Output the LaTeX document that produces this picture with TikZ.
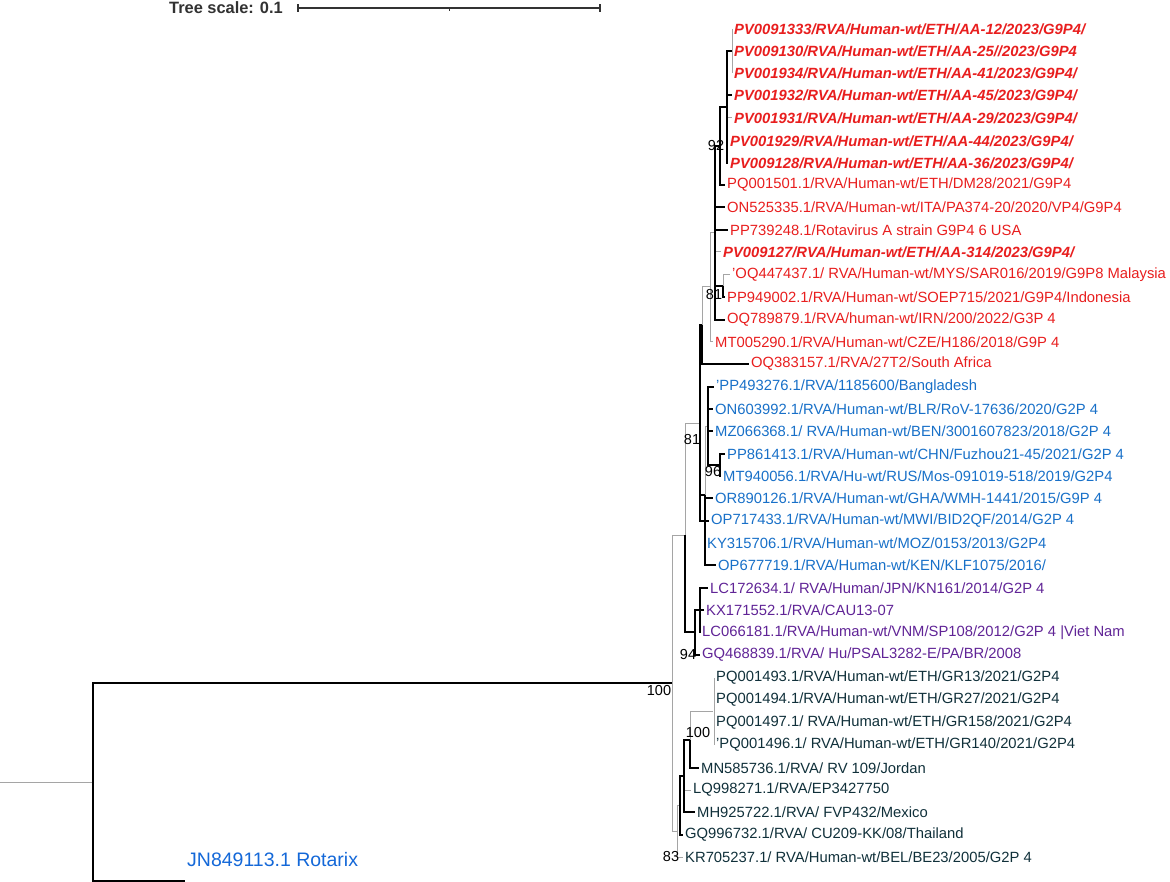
\documentclass[tikz,border=0pt]{standalone}
\usepackage{fontspec}
\setmainfont{Liberation Sans}
\usepackage{xcolor}
\usepackage{tikz}

\definecolor{gninered}{RGB}{232,30,30}
\definecolor{gtwoblue}{RGB}{24,112,200}
\definecolor{gtwopurple}{RGB}{96,36,150}
\definecolor{gtwodark}{RGB}{16,48,58}
\definecolor{rotablue}{RGB}{20,104,216}
\definecolor{branchgrey}{RGB}{165,165,165}
\definecolor{scalegrey}{RGB}{50,50,50}

\tikzset{
  leaf/.style={anchor=west, inner sep=2pt, font=\fontsize{14.8}{16}\selectfont},
  redleaf/.style={leaf, text=gninered},
  newleaf/.style={leaf, text=gninered, font=\fontsize{14.8}{16}\selectfont\bfseries\itshape},
  blueleaf/.style={leaf, text=gtwoblue},
  purpleleaf/.style={leaf, text=gtwopurple},
  darkleaf/.style={leaf, text=gtwodark},
  br/.style={draw=black, line width=1.2pt},
  brgrey/.style={draw=branchgrey, line width=1pt},
  boot/.style={inner sep=0pt, font=\fontsize{14.5}{16}\selectfont, text=black}
}

\begin{document}
\begin{tikzpicture}[x=1pt, y=-1pt]
            \useasboundingbox (0,0) rectangle (1170,882);
            % Scale bar
            \node[anchor=east, inner sep=0pt, text=scalegrey, font=\fontsize{16.4}{18}\selectfont\bfseries] (scaletxt) at (283,8) {Tree scale: 0.1};
            \coordinate (sc0) at (298,8);
            \coordinate (scm) at (449,8);
            \coordinate (sc1) at (600,8);
            \draw[scalegrey, line width=1.3pt] (sc0) -- (sc1);
            \draw[scalegrey, line width=1.3pt] ([yshift=-4]sc0) -- ([yshift=4]sc0);
            \draw[scalegrey, line width=1.3pt] ([yshift=-4]sc1) -- ([yshift=4]sc1);
            \draw[scalegrey, line width=1pt] (scm) -- ++(0,3);

            % Internal nodes
            \coordinate (root) at (93,782);
            \coordinate (stem) at (0,782);
            \coordinate (nMain) at (672,683);
            \coordinate (nU) at (685,535);
            \coordinate (nK) at (700,423);
            \coordinate (nG) at (702,325);
            \coordinate (nF) at (710,287);
            \coordinate (nC) at (715,233);
            \coordinate (nE) at (723,286);
            \coordinate (nB) at (720,146);
            \coordinate (nA) at (727,107);
            \coordinate (a3) at (732,51);
            \coordinate (nI) at (705,495);
            \coordinate (nH) at (708,426);
            \coordinate (n96) at (720,465);
            \coordinate (n94) at (695,632);
            \coordinate (nP) at (700,610);
            \coordinate (n83) at (677,831);
            \coordinate (nO) at (680,805);
            \coordinate (nN) at (684,776);
            \coordinate (nM) at (690,740);
            \coordinate (nD) at (713,711);
            \coordinate (rtip) at (185,881);

            % Leaves, G9P4 clade
            \node[newleaf] (l1) at (732,29) {PV0091333/RVA/Human-wt/ETH/AA-12/2023/G9P4/};
            \node[newleaf] (l2) at (732,51) {PV009130/RVA/Human-wt/ETH/AA-25//2023/G9P4};
            \node[newleaf] (l3) at (732,73) {PV001934/RVA/Human-wt/ETH/AA-41/2023/G9P4/};
            \node[newleaf] (l4) at (732,95) {PV001932/RVA/Human-wt/ETH/AA-45/2023/G9P4/};
            \node[newleaf] (l5) at (732,118) {PV001931/RVA/Human-wt/ETH/AA-29/2023/G9P4/};
            \node[newleaf] (l6) at (728,141) {PV001929/RVA/Human-wt/ETH/AA-44/2023/G9P4/};
            \node[newleaf] (l7) at (728,163) {PV009128/RVA/Human-wt/ETH/AA-36/2023/G9P4/};
            \node[redleaf] (l8) at (725,185) {PQ001501.1/RVA/Human-wt/ETH/DM28/2021/G9P4};
            \node[redleaf] (l9) at (725,207) {ON525335.1/RVA/Human-wt/ITA/PA374-20/2020/VP4/G9P4};
            \node[redleaf] (l10) at (728,230) {PP739248.1/Rotavirus A strain G9P4 6 USA};
            \node[newleaf] (l11) at (721,252) {PV009127/RVA/Human-wt/ETH/AA-314/2023/G9P4/};
            \node[redleaf] (l12) at (730,275) {'OQ447437.1/ RVA/Human-wt/MYS/SAR016/2019/G9P8 Malaysia};
            \node[redleaf] (l13) at (725,297) {PP949002.1/RVA/Human-wt/SOEP715/2021/G9P4/Indonesia};
            \node[redleaf] (l14) at (725,320) {OQ789879.1/RVA/human-wt/IRN/200/2022/G3P 4};
            \node[redleaf] (l15) at (713,342) {MT005290.1/RVA/Human-wt/CZE/H186/2018/G9P 4};
            \node[redleaf] (l16) at (749,364) {OQ383157.1/RVA/27T2/South Africa};
            % Leaves, G2P4 clades
            \node[blueleaf] (l17) at (714,387) {'PP493276.1/RVA/1185600/Bangladesh};
            \node[blueleaf] (l18) at (713,409) {ON603992.1/RVA/Human-wt/BLR/RoV-17636/2020/G2P 4};
            \node[blueleaf] (l19) at (713,431) {MZ066368.1/ RVA/Human-wt/BEN/3001607823/2018/G2P 4};
            \node[blueleaf] (l20) at (725,454) {PP861413.1/RVA/Human-wt/CHN/Fuzhou21-45/2021/G2P 4};
            \node[blueleaf] (l21) at (721,476) {MT940056.1/RVA/Hu-wt/RUS/Mos-091019-518/2019/G2P4};
            \node[blueleaf] (l22) at (713,498) {OR890126.1/RVA/Human-wt/GHA/WMH-1441/2015/G9P 4};
            \node[blueleaf] (l23) at (709,521) {OP717433.1/RVA/Human-wt/MWI/BID2QF/2014/G2P 4};
            \node[blueleaf] (l24) at (705,543) {KY315706.1/RVA/Human-wt/MOZ/0153/2013/G2P4};
            \node[blueleaf] (l25) at (716,565) {OP677719.1/RVA/Human-wt/KEN/KLF1075/2016/};
            \node[purpleleaf] (l26) at (708,588) {LC172634.1/ RVA/Human/JPN/KN161/2014/G2P 4};
            \node[purpleleaf] (l27) at (704,610) {KX171552.1/RVA/CAU13-07};
            \node[purpleleaf] (l28) at (700,633) {LC066181.1/RVA/Human-wt/VNM/SP108/2012/G2P 4 |Viet Nam};
            \node[purpleleaf] (l29) at (700,655) {GQ468839.1/RVA/ Hu/PSAL3282-E/PA/BR/2008};
            \node[darkleaf] (l30) at (714,678) {PQ001493.1/RVA/Human-wt/ETH/GR13/2021/G2P4};
            \node[darkleaf] (l31) at (714,700) {PQ001494.1/RVA/Human-wt/ETH/GR27/2021/G2P4};
            \node[darkleaf] (l32) at (714,723) {PQ001497.1/ RVA/Human-wt/ETH/GR158/2021/G2P4};
            \node[darkleaf] (l33) at (714,745) {'PQ001496.1/ RVA/Human-wt/ETH/GR140/2021/G2P4};
            \node[darkleaf] (l34) at (699,768) {MN585736.1/RVA/ RV 109/Jordan};
            \node[darkleaf] (l35) at (691,790) {LQ998271.1/RVA/EP3427750};
            \node[darkleaf] (l36) at (695,812) {MH925722.1/RVA/ FVP432/Mexico};
            \node[darkleaf] (l37) at (683,835) {GQ996732.1/RVA/ CU209-KK/08/Thailand};
            \node[darkleaf] (l38) at (683,857) {KR705237.1/ RVA/Human-wt/BEL/BE23/2005/G2P 4};
            % Outgroup
            \node[anchor=base west, inner sep=2pt, text=rotablue, font=\fontsize{19.5}{22}\selectfont] (rota) at (185,866) {JN849113.1 Rotarix};

            % Branches
            \draw[brgrey] (stem) -- (root);
            \draw[br] (root) |- (nMain);
            \draw[br] (root) |- (rtip);
            \draw[brgrey] (nMain) |- (nU);
            \draw[brgrey] (nMain) |- (n83);
            \draw[brgrey] (nU) |- (nK);
            \draw[br] (nU) |- (n94);
            % red clade
            \draw[br] (nK) |- (nG);
            \draw[br] (nG) |- (l16.west);
            \draw[brgrey] (nG) |- (nF);
            \draw[brgrey] (nF) |- (nC);
            \draw[brgrey] (nF) |- (l15.west);
            \draw[br] (nC) |- (nB);
            \draw[br] (nC) |- (l9.west);
            \draw[br] (nC) |- (l10.west);
            \draw[brgrey] (nC) |- (l11.west);
            \draw[br] (nC) |- (nE);
            \draw[br] (nC) |- (l14.west);
            \draw[brgrey] (nE) |- (l12.west);
            \draw[br] (nE) |- (l13.west);
            \draw[br] (nB) |- (nA);
            \draw[br] (nB) |- (l8.west);
            \draw[br] (nA) |- (a3);
            \draw[br] (nA) |- (l4.west);
            \draw[brgrey] (nA) |- (l5.west);
            \draw[br] (nA) |- (l6.west);
            \draw[br] (nA) |- (l7.west);
            \draw[brgrey] (l1.west) -- (l3.west);
            % blue clade
            \draw[br] (nK) |- (nI);
            \draw[br] (nK) |- (l23.west);
            \draw[brgrey] (nI) |- (nH);
            \draw[br] (nI) |- (l22.west);
            \draw[brgrey] (nI) |- (l24.west);
            \draw[br] (nI) |- (l25.west);
            \draw[br] (nH) |- (l17.west);
            \draw[br] (nH) |- (l18.west);
            \draw[br] (nH) |- (l19.west);
            \draw[br] (nH) |- (n96);
            \draw[br] (n96) |- (l20.west);
            \draw[br] (n96) |- (l21.west);
            % purple clade
            \draw[br] (n94) |- (nP);
            \draw[br] (n94) |- (l29.west);
            \draw[br] (nP) |- (l26.west);
            \draw[br] (nP) |- (l27.west);
            \draw[br] (nP) |- (l28.west);
            % dark clade
            \draw[brgrey] (n83) |- (nO);
            \draw[brgrey] (n83) |- (l38.west);
            \draw[br] (nO) |- (nN);
            \draw[br] (nO) |- (l37.west);
            \draw[br] (nN) |- (nM);
            \draw[brgrey] (nN) |- (l35.west);
            \draw[br] (nN) |- (l36.west);
            \draw[brgrey] (nM) |- (nD);
            \draw[br] (nM) |- (l34.west);
            \draw[brgrey] (l30.west) -- (l33.west);

            % Bootstrap values
            \node[boot] (b92) at (716,146) {92};
            \node[boot] (b81r) at (714,295) {81};
            \node[boot] (b81b) at (692,440) {81};
            \node[boot] (b96) at (713,472) {96};
            \node[boot] (b94) at (688,655) {94};
            \node[boot] (b100m) at (659,691) {100};
            \node[boot] (b100d) at (698,733) {100};
            \node[boot] (b83) at (671,857) {83};
\end{tikzpicture}
\end{document}
